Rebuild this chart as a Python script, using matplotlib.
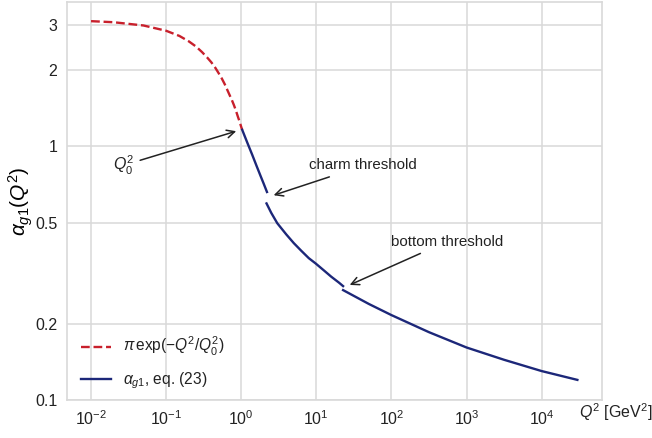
import matplotlib
matplotlib.use("Agg")
import matplotlib.pyplot as plt
from matplotlib.ticker import FixedLocator, FixedFormatter, NullLocator

plt.rcParams['font.family'] = ['Liberation Sans', 'DejaVu Sans']
plt.rcParams['mathtext.fontset'] = 'custom'
plt.rcParams['mathtext.rm'] = 'Liberation Sans'
plt.rcParams['mathtext.it'] = 'Liberation Sans:italic'
plt.rcParams['mathtext.bf'] = 'Liberation Sans:bold'

# Red dashed curve: pi*exp(-Q^2/Q0^2)
q_exp = [0.01, 0.02, 0.05, 0.1, 0.15, 0.2, 0.25, 0.3, 0.35, 0.4, 0.45, 0.5, 0.55,
         0.6, 0.65, 0.7, 0.75, 0.8, 0.85, 0.9, 0.95, 1.0, 1.03]
a_exp = [3.11, 3.08, 2.99, 2.85, 2.72, 2.59, 2.47, 2.35, 2.24, 2.14, 2.04, 1.94, 1.85,
         1.76, 1.67, 1.59, 1.52, 1.45, 1.38, 1.31, 1.25, 1.19, 1.16]

# Blue curve, three segments (below charm, between charm and bottom, above bottom)
q_seg1 = [1.03, 1.2, 1.4, 1.6, 1.8, 2.0, 2.2]
a_seg1 = [1.16, 1.035, 0.925, 0.836, 0.766, 0.709, 0.66]
q_seg2 = [2.17, 2.51, 3.02, 3.98, 5.01, 6.31, 7.94, 9.8, 12.6, 15.8, 20.0, 22.7]
a_seg2 = [0.595, 0.546, 0.497, 0.449, 0.415, 0.387, 0.362, 0.345, 0.324, 0.306, 0.290, 0.281]
q_seg3 = [22.7, 50, 100, 316, 1000, 3162, 1e4, 2.99e4]
a_seg3 = [0.271, 0.239, 0.216, 0.185, 0.161, 0.144, 0.130, 0.12]

x_ticks = [1e-2, 1e-1, 1e0, 1e1, 1e2, 1e3, 1e4]
x_labels = [r'$10^{-2}$', r'$10^{-1}$', r'$10^{0}$', r'$10^{1}$', r'$10^{2}$', r'$10^{3}$', r'$10^{4}$']
y_ticks = [0.1, 0.2, 0.5, 1, 2, 3]
y_labels = ['0.1', '0.2', '0.5', '1', '2', '3']

red = '#c8202c'
blue = '#1c2779'
gridc = '#d9d9d9'
txtc = '#222222'

fig = plt.figure(figsize=(6.52, 4.38), dpi=100)
ax = fig.add_axes([0.1028, 0.0868, 0.8201, 0.9086])
ax.set_xscale('log')
ax.set_yscale('log')
ax.set_xlim(10**-2.32, 10**4.8)
ax.set_ylim(0.1, 3.7)

ax.plot(q_exp, a_exp, '--', color=red, lw=1.7, label=r'$\pi\,\exp(-Q^2/Q_0^2)$')
ax.plot(q_seg1, a_seg1, '-', color=blue, lw=1.7, label=r'$\alpha_{g1}$, eq. (23)')
ax.plot(q_seg2, a_seg2, '-', color=blue, lw=1.7)
ax.plot(q_seg3, a_seg3, '-', color=blue, lw=1.7)

ax.xaxis.set_major_locator(FixedLocator(x_ticks))
ax.xaxis.set_major_formatter(FixedFormatter(x_labels))
ax.xaxis.set_minor_locator(NullLocator())
ax.yaxis.set_major_locator(FixedLocator(y_ticks))
ax.yaxis.set_major_formatter(FixedFormatter(y_labels))
ax.yaxis.set_minor_locator(NullLocator())
ax.tick_params(axis='both', which='both', length=0, labelsize=11.5, pad=7, colors=txtc)
ax.grid(True, color=gridc, lw=1.1)
ax.set_axisbelow(True)
for s in ax.spines.values():
    s.set_color(gridc)
    s.set_linewidth(1.2)

ax.set_ylabel(r'$\alpha_{g1}(Q^2)$', fontsize=15)
ax.yaxis.set_label_coords(-0.06, 0.5)
fig.text(0.888, 0.058, r'$Q^2$ [GeV$^2$]', fontsize=11.5, ha='left', va='center', color=txtc)

arrow = dict(arrowstyle='->', color=txtc, lw=1.1, mutation_scale=14, shrinkA=0, shrinkB=0)
ax.text(0.0275, 0.84, r'$Q_0^2$', fontsize=11.5, ha='center', va='center', color=txtc)
ax.annotate('', xy=(0.857, 1.146), xytext=(0.045, 0.88), arrowprops=arrow)
ax.text(8.07, 0.84, 'charm threshold', fontsize=10.8, ha='left', va='center', color=txtc)
ax.annotate('', xy=(2.70, 0.641), xytext=(14.9, 0.757), arrowprops=arrow)
ax.text(100, 0.42, 'bottom threshold', fontsize=10.8, ha='left', va='center', color=txtc)
ax.annotate('', xy=(27.8, 0.284), xytext=(243, 0.378), arrowprops=arrow)

leg = ax.legend(loc='lower left', bbox_to_anchor=(0.0, -0.012), frameon=False, fontsize=11.2,
                handlelength=1.9, handletextpad=0.8, labelspacing=0.75)
for t in leg.get_texts():
    t.set_color(txtc)

fig.savefig('out.png', dpi=100)
